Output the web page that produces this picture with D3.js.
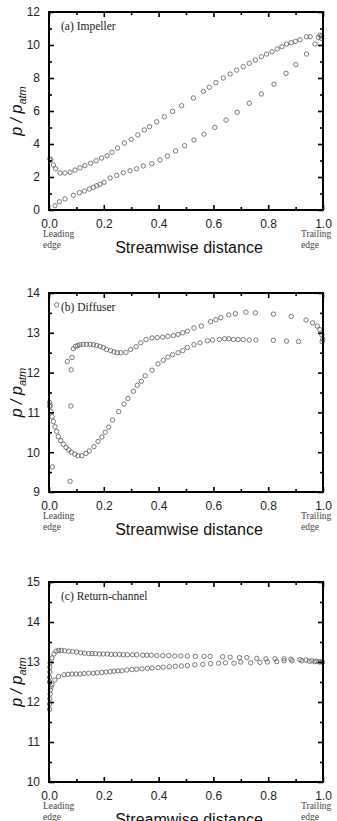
<!DOCTYPE html>
<html>
<head>
<meta charset="utf-8">
<script src="https://cdn.jsdelivr.net/npm/d3@7"></script>
<style>
  body { margin: 0; background: #fff; }
  svg { display: block; }
</style>
</head>
<body>
<div class="chart"></div>
<script>
// (a) Impeller
var impellerUpper = [[0.003,3.1],[0.007,3.03],[0.016,2.73],[0.024,2.5],[0.04,2.24],[0.058,2.24],[0.077,2.28],[0.095,2.42],
  [0.113,2.55],[0.131,2.69],[0.152,2.83],[0.172,2.99],[0.192,3.15],[0.212,3.29],[0.23,3.5],[0.25,3.76],[0.275,4.06],
  [0.3,4.28],[0.324,4.55],[0.348,4.85],[0.367,5.05],[0.393,5.35],[0.421,5.65],[0.451,5.98],[0.484,6.32],[0.527,6.79],
  [0.563,7.19],[0.585,7.44],[0.609,7.72],[0.636,8.0],[0.661,8.24],[0.685,8.48],[0.709,8.69],[0.731,8.89],[0.753,9.09],
  [0.775,9.29],[0.794,9.45],[0.814,9.59],[0.833,9.76],[0.85,9.9],[0.867,10.06],[0.884,10.14],[0.899,10.22],[0.916,10.32],
  [0.94,10.5],[0.953,10.5],[0.989,10.6],[0.995,10.55]];
var impellerLower = [[0.022,0.26],[0.038,0.5],[0.058,0.67],[0.089,0.89],[0.111,1.05],[0.129,1.15],[0.147,1.27],[0.162,1.37],
  [0.174,1.47],[0.186,1.56],[0.201,1.68],[0.223,1.94],[0.247,2.1],[0.271,2.26],[0.296,2.38],[0.32,2.5],[0.344,2.67],
  [0.375,2.81],[0.405,3.03],[0.432,3.27],[0.462,3.58],[0.495,3.9],[0.529,4.24],[0.566,4.6],[0.605,5.01],[0.646,5.45],
  [0.687,5.92],[0.731,6.47],[0.775,7.03],[0.821,7.62],[0.865,8.28],[0.901,8.81],[0.94,9.45],[0.971,10.06],[0.983,10.46],
  [0.995,10.4]];

// (b) Diffuser
var diffuserUpper = [[0.028,13.7],[0.067,12.28],[0.084,12.38],[0.081,12.07],[0.08,11.16],[0.089,12.6],[0.097,12.66],
  [0.105,12.68],[0.113,12.7],[0.125,12.71],[0.137,12.71],[0.15,12.71],[0.162,12.7],[0.174,12.68],[0.186,12.66],
  [0.198,12.63],[0.21,12.58],[0.225,12.55],[0.237,12.52],[0.249,12.5],[0.262,12.5],[0.281,12.51],[0.298,12.58],
  [0.318,12.65],[0.335,12.75],[0.354,12.83],[0.376,12.87],[0.395,12.88],[0.415,12.89],[0.434,12.91],[0.454,12.93],
  [0.471,12.96],[0.488,13.0],[0.505,13.04],[0.529,13.12],[0.556,13.17],[0.59,13.28],[0.609,13.33],[0.627,13.38],
  [0.656,13.45],[0.68,13.48],[0.719,13.52],[0.753,13.5],[0.819,13.47],[0.884,13.41],[0.938,13.32],[0.962,13.25],
  [0.979,13.17],[0.989,13.08],[0.996,12.95]];
var diffuserLower = [[0.002,11.25],[0.003,11.15],[0.004,11.18],[0.007,11.02],[0.011,10.89],[0.012,9.63],[0.016,10.77],
  [0.022,10.64],[0.028,10.52],[0.034,10.39],[0.043,10.29],[0.052,10.2],[0.062,10.12],[0.072,10.06],[0.077,9.27],
  [0.081,10.0],[0.094,9.95],[0.106,9.91],[0.12,9.91],[0.135,9.97],[0.147,10.03],[0.164,10.14],[0.179,10.27],
  [0.193,10.38],[0.205,10.5],[0.218,10.63],[0.232,10.81],[0.254,11.02],[0.274,11.21],[0.288,11.35],[0.308,11.53],
  [0.322,11.68],[0.337,11.78],[0.351,11.92],[0.376,12.06],[0.398,12.22],[0.417,12.31],[0.434,12.39],[0.451,12.45],
  [0.471,12.5],[0.488,12.55],[0.505,12.63],[0.529,12.7],[0.551,12.75],[0.578,12.8],[0.597,12.82],[0.622,12.83],
  [0.641,12.85],[0.656,12.85],[0.673,12.83],[0.69,12.83],[0.709,12.83],[0.731,12.82],[0.755,12.82],[0.819,12.81],
  [0.867,12.79],[0.911,12.78],[0.997,12.78],[0.999,12.84]];

// (c) Return-channel
var returnUpper = [[0.002,12.5],[0.002,12.62],[0.003,12.75],[0.003,12.87],[0.004,12.98],[0.011,13.1],[0.018,13.2],
  [0.026,13.27],[0.035,13.29],[0.045,13.29],[0.057,13.28],[0.072,13.27],[0.086,13.26],[0.101,13.25],[0.116,13.23],
  [0.13,13.22],[0.145,13.21],[0.157,13.21],[0.169,13.21],[0.184,13.2],[0.198,13.2],[0.213,13.2],[0.227,13.19],
  [0.242,13.19],[0.257,13.19],[0.271,13.18],[0.286,13.18],[0.305,13.18],[0.32,13.18],[0.342,13.17],[0.357,13.17],
  [0.373,13.17],[0.393,13.16],[0.415,13.16],[0.437,13.16],[0.459,13.15],[0.481,13.15],[0.505,13.15],[0.534,13.14],
  [0.566,13.14],[0.588,13.14],[0.634,13.13],[0.661,13.12],[0.695,13.11],[0.722,13.11],[0.758,13.09],[0.792,13.08],
  [0.825,13.08],[0.858,13.08],[0.883,13.07],[0.916,13.06],[0.938,13.05],[0.959,13.03],[0.977,13.02],[0.995,13.01]];
var returnLower = [[0.002,11.82],[0.002,11.95],[0.003,12.08],[0.004,12.2],[0.005,12.3],[0.007,12.38],[0.011,12.43],
  [0.021,12.55],[0.035,12.64],[0.055,12.68],[0.069,12.69],[0.084,12.7],[0.099,12.7],[0.113,12.7],[0.128,12.71],
  [0.145,12.72],[0.162,12.72],[0.176,12.73],[0.193,12.74],[0.208,12.75],[0.223,12.76],[0.237,12.77],[0.252,12.78],
  [0.266,12.78],[0.284,12.8],[0.303,12.81],[0.32,12.82],[0.339,12.83],[0.359,12.84],[0.376,12.85],[0.398,12.86],
  [0.417,12.87],[0.439,12.88],[0.461,12.89],[0.483,12.9],[0.505,12.91],[0.532,12.93],[0.561,12.94],[0.59,12.96],
  [0.619,12.97],[0.644,12.98],[0.675,12.97],[0.7,13.0],[0.736,12.98],[0.77,12.99],[0.797,13.0],[0.831,13.01],
  [0.858,13.03],[0.887,13.03],[0.923,13.03],[0.95,13.02],[0.97,13.01],[0.986,13.0],[0.998,12.99]];

var xTicks = [0, 0.2, 0.4, 0.6, 0.8, 1.0];
var xMinor = [0.1, 0.3, 0.5, 0.7, 0.9];
var panelTitles = ["(a) Impeller", "(b) Diffuser", "(c) Return-channel"];

var width = 337, height = 821;
var svg = d3.select(".chart").append("svg")
  .attr("width", width)
  .attr("height", height);

var panels = [
  {title: panelTitles[0], top: 12, bottom: 210, domain: [0, 12], major: [0,2,4,6,8,10,12], minor: [1,3,5,7,9,11], series: [impellerUpper, impellerLower]},
  {title: panelTitles[1], top: 293, bottom: 492, domain: [9, 14], major: [9,10,11,12,13,14], minor: [9.5,10.5,11.5,12.5,13.5], series: [diffuserUpper, diffuserLower]},
  {title: panelTitles[2], top: 582, bottom: 782, domain: [10, 15], major: [10,11,12,13,14,15], minor: [10.5,11.5,12.5,13.5,14.5], series: [returnUpper, returnLower]}
];

var left = 49, right = 323;

panels.forEach(function(p) {
  var x = d3.scaleLinear().domain([0, 1]).range([left, right]);
  var y = d3.scaleLinear().domain(p.domain).range([p.bottom, p.top]);
  var g = svg.append("g");

  // points first, frame on top
  p.series.forEach(function(s) {
    g.selectAll(null).data(s).enter().append("circle")
      .attr("cx", function(d) { return x(d[0]); })
      .attr("cy", function(d) { return y(d[1]); })
      .attr("r", 2.2)
      .attr("fill", "none")
      .attr("stroke", "#5a5a5a")
      .attr("stroke-width", 0.8);
  });

  function styleAxis(a) {
    a.select(".domain").remove();
    a.selectAll("line").attr("stroke", "#000").attr("stroke-width", 1.6);
    a.selectAll("text").attr("font-family", "Liberation Sans, Arial, sans-serif")
      .attr("font-size", 12).attr("fill", "#222");
  }

  // bottom
  var bx = g.append("g").attr("transform", "translate(0," + p.bottom + ")")
    .call(d3.axisBottom(x).tickValues(xTicks).tickSize(-5).tickPadding(9).tickFormat(d3.format(".1f")));
  styleAxis(bx);
  var bm = g.append("g").attr("transform", "translate(0," + p.bottom + ")")
    .call(d3.axisBottom(x).tickValues(xMinor).tickSize(-3).tickFormat(""));
  styleAxis(bm);
  // top
  var tx = g.append("g").attr("transform", "translate(0," + p.top + ")")
    .call(d3.axisTop(x).tickValues(xTicks).tickSize(-5).tickFormat(""));
  styleAxis(tx);
  var tm = g.append("g").attr("transform", "translate(0," + p.top + ")")
    .call(d3.axisTop(x).tickValues(xMinor).tickSize(-3).tickFormat(""));
  styleAxis(tm);
  // left
  var ly = g.append("g").attr("transform", "translate(" + left + ",0)")
    .call(d3.axisLeft(y).tickValues(p.major).tickSize(-5).tickPadding(9).tickFormat(d3.format("d")));
  styleAxis(ly);
  var lm = g.append("g").attr("transform", "translate(" + left + ",0)")
    .call(d3.axisLeft(y).tickValues(p.minor).tickSize(-3).tickFormat(""));
  styleAxis(lm);
  // right
  var ry = g.append("g").attr("transform", "translate(" + right + ",0)")
    .call(d3.axisRight(y).tickValues(p.major).tickSize(-5).tickFormat(""));
  styleAxis(ry);
  var rm = g.append("g").attr("transform", "translate(" + right + ",0)")
    .call(d3.axisRight(y).tickValues(p.minor).tickSize(-3).tickFormat(""));
  styleAxis(rm);

  g.append("rect")
    .attr("x", left).attr("y", p.top)
    .attr("width", right - left).attr("height", p.bottom - p.top)
    .attr("fill", "none").attr("stroke", "#000").attr("stroke-width", 2);

  g.append("text")
    .attr("x", left + 12).attr("y", p.top + 18)
    .attr("font-family", "Liberation Serif, Times New Roman, serif")
    .attr("font-size", 11.5).attr("fill", "#222")
    .text(p.title);

  // leading / trailing edge notes
  [["Leading", "edge", left - 6], ["Trailing", "edge", right - 22]].forEach(function(n) {
    var t = g.append("text")
      .attr("font-family", "Liberation Serif, Times New Roman, serif")
      .attr("font-size", 9.5).attr("fill", "#444");
    t.append("tspan").attr("x", n[2]).attr("y", p.bottom + 27).text(n[0]);
    t.append("tspan").attr("x", n[2]).attr("y", p.bottom + 38).text(n[1]);
  });

  g.append("text")
    .attr("x", (left + right) / 2 + 3).attr("y", p.bottom + 43)
    .attr("text-anchor", "middle")
    .attr("font-family", "Liberation Sans, Arial, sans-serif")
    .attr("font-size", 16).attr("fill", "#111")
    .text("Streamwise distance");

  var yl = g.append("text")
    .attr("transform", "translate(22," + ((p.top + p.bottom) / 2) + ") rotate(-90)")
    .attr("text-anchor", "middle")
    .attr("font-family", "Liberation Sans, Arial, sans-serif")
    .attr("font-style", "italic")
    .attr("font-size", 16).attr("fill", "#111");
  yl.append("tspan").text("p / p");
  yl.append("tspan").attr("font-size", 11).attr("dy", 4).text("atm");
});
</script>
</body>
</html>
